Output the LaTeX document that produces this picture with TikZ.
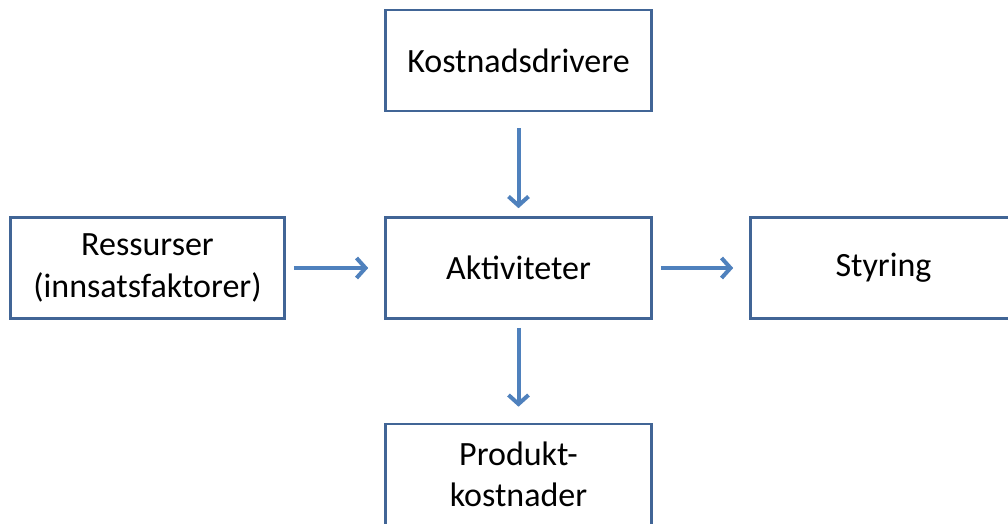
\documentclass[tikz,border=0pt]{standalone}
\usepackage{fontspec}
\setmainfont{Carlito}
\usetikzlibrary{arrows.meta}
\definecolor{boxline}{RGB}{65,101,150}
\definecolor{flow}{RGB}{79,129,189}
\tikzset{
  box/.style={draw=boxline, line width=2.6pt, fill=white, rectangle,
    minimum width=266pt, minimum height=101pt, inner sep=0pt,
    align=center, font=\fontsize{34}{41.5}\selectfont},
  flowarrow/.style={draw=flow, line width=4pt,
    -{Straight Barb[length=9pt,width=20pt]}, shorten <=8pt, shorten >=16pt}
}
\begin{document}
\begin{tikzpicture}[x=1pt,y=-1pt]
  \clip (0,0) rectangle (1008,524);
  \fill[white] (0,0) rectangle (1008,524);
  \node[box] (kd) at (518.5,60.5) {Kostnadsdrivere};
  \node[box] (akt) at (518.5,268) {Aktiviteter};
  \node[box, minimum width=274pt] (res) at (147.5,268) {Ressurser\\(innsatsfaktorer)};
  \node[box] (sty) at (883.5,268) {Styring};
  \node[box] (prod) at (518.5,474.5) {Produkt-\\kostnader};
  \draw[flowarrow, shorten <=16pt, shorten >=8pt] (kd) -- (akt);
  \draw[flowarrow] (res) -- (akt);
  \draw[flowarrow] (akt) -- (sty);
  \draw[flowarrow] (akt) -- (prod);
\end{tikzpicture}
\end{document}
